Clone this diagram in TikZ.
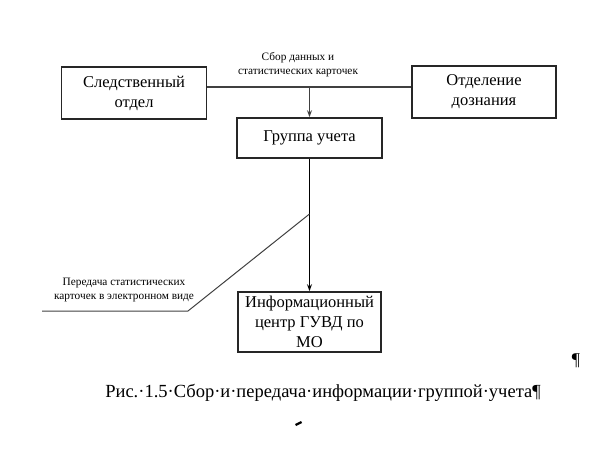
\documentclass[tikz,border=0pt]{standalone}
\usepackage{fontspec}
\setmainfont{Liberation Serif}
\usetikzlibrary{arrows.meta}
\begin{document}
\begin{tikzpicture}[x=1pt,y=-1pt,
  box/.style={draw=black!85,line width=1.6pt,align=center,font=\fontsize{16.5}{20}\selectfont,inner sep=0pt},
  conn/.style={draw=black!75,line width=1.2pt},
  arr/.style={conn,-{Stealth[length=7pt,width=5pt]}},
  small/.style={align=center,font=\fontsize{11.3}{14}\selectfont,inner sep=0pt}]
\useasboundingbox (0,0) rectangle (590,460);
\node[box,minimum width=145pt,minimum height=52pt] (sled) at (134,93) {Следственный\\отдел};
\node[box,minimum width=144pt,minimum height=52pt] (otd) at (484,92) {Отделение\\дознания};
\node[box,minimum width=145pt,minimum height=40pt] (grp) at (309.5,138) {Группа учета};
\node[box,minimum width=143pt,minimum height=60pt] (ic) at (309.5,322) {Информационный\\центр ГУВД по\\МО};
\coordinate (j) at (309.5,87);
\coordinate (d1) at (42,311);
\coordinate (d2) at (188,311);
\coordinate (d3) at (309.5,214);
\draw[conn] (sled.east |- j) -- (otd.west |- j);
\draw[arr] (j) -- (grp.north);
\draw[draw=black,line width=1.8pt,-{Stealth[length=7pt,width=5pt]}] (grp.south) -- (ic.north);
\draw[conn,line width=1pt] (d1) -- (d2) -- (d3);
\node[small] (lbl1) at (298,65) {Сбор данных и\\статистических карточек};
\node[small] (lbl2) at (124,290) {Передача статистических\\карточек в электронном виде};
\node[font=\fontsize{18.5}{20}\selectfont,inner sep=0pt] (cap) at (323,393) {Рис.·1.5·Сбор·и·передача·информации·группой·учета¶};
\node[font=\fontsize{18}{20}\selectfont,inner sep=0pt] (pil) at (576,361) {¶};
\fill[black] (295,424) -- (301,421) -- (302,423) -- (296,426) -- cycle;
\end{tikzpicture}
\end{document}
